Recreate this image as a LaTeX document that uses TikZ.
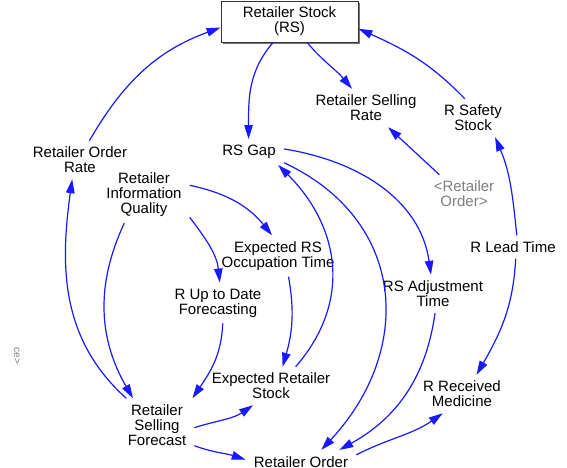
\documentclass[tikz,border=0pt]{standalone}
\usepackage{fontspec}
\setmainfont{Liberation Sans}
\usetikzlibrary{arrows.meta,shadows}
\definecolor{linkblue}{RGB}{25,25,255}
\definecolor{shadowgrey}{RGB}{120,120,120}
\tikzset{
  var/.style={align=center, inner xsep=8pt, inner ysep=6pt},
  shadowvar/.style={var, text=gray},
  stockbox/.style={draw=black!80, fill=white, line width=0.8pt,
    minimum width=137pt, minimum height=41pt, align=center,
    drop shadow={shadow xshift=2pt, shadow yshift=-2pt, fill=shadowgrey, opacity=1}},
  link/.style={draw=linkblue, line width=1.2pt, -{Triangle[length=14pt,width=8.5pt]}},
}
\begin{document}
\begin{tikzpicture}[x=1pt,y=1pt,font=\fontsize{15}{15}\selectfont]
\fill[white] (0,0) rectangle (567,468);
\useasboundingbox (0,0) rectangle (567,468);

% stock
\node[stockbox] (rs) at (289.5,446.5) {Retailer Stock\\(RS)};

% auxiliaries
\node[var] (rsr)  at (366,360) {Retailer Selling\\Rate};
\node[var] (rss)  at (473,350) {R Safety\\Stock};
\node[shadowvar] (rord) at (464,274) {<Retailer\\Order>};
\node[var] (ror)  at (80,308)  {Retailer Order\\Rate};
\node[var] (gap)  at (249,316) {RS Gap};
\node[var] (riq)  at (144,273) {Retailer\\Information\\Quality};
\node[var] (eot)  at (278,212) {Expected RS\\Occupation Time};
\node[var] (upd)  at (218,165) {R Up to Date\\Forecasting};
\node[var] (adj)  at (433,174) {RS Adjustment\\Time};
\node[var] (lead) at (513,221) {R Lead Time};
\node[var] (ers)  at (271,82)  {Expected Retailer\\Stock};
\node[var] (rrm)  at (462,74)  {R Received\\Medicine};
\node[var] (rsf)  at (157,43)  {Retailer\\Selling\\Forecast};
\node[var, anchor=base] (ro) at (301,1) {Retailer Order};
\node[text=gray, rotate=-90, inner sep=0pt, font=\fontsize{10}{10}\selectfont] (edge) at (17,112) {ce>};

% causal links
\draw[link] (ror.64)  to[out=60,in=200] (rs.185);
\draw[link] (rs.232)  to[out=229,in=90] (gap.92);
\draw[link] (rs.310)  to[out=310,in=130] (rsr.126);
\draw[link] (rss.113) to[out=134,in=336] (rs.354);
\draw[link] (rord.142) -- (rsr.319);
\draw[link] (lead.72) to[out=96,in=293] (rss.319);
\draw[link] (gap.5)   to[out=351,in=98] (adj.96);
\draw[link] (gap.343) to[out=335,in=47,looseness=1.2] (ro.30);
\draw[link] (ers.38)  to[out=49,in=315,looseness=1.1] (gap.336);
\draw[link] (riq.12)  to[out=348,in=129] (eot.106);
\draw[link] (riq.334) to[out=307,in=96] (upd.85);
\draw[link] (riq.235) to[out=245,in=120] (rsf.132);
\draw[link] (rsf.139) to[out=138,in=262] (ror.248);
\draw[link] (upd.283) to[out=268,in=56] (rsf.37);
\draw[link] (eot.297) to[out=280,in=74] (ers.59);
\draw[link] (rsf.356) to[out=17,in=214] (ers.227);
\draw[link] (rsf.331) to[out=340,in=162] (ro.178);
\draw[link] (adj.276) to[out=262,in=29] (ro.17);
\draw[link] (ro.7)    to[out=27,in=215] (rrm.225);
\draw[link] (lead.283) to[out=267,in=60] (rrm.53);
\end{tikzpicture}
\end{document}
